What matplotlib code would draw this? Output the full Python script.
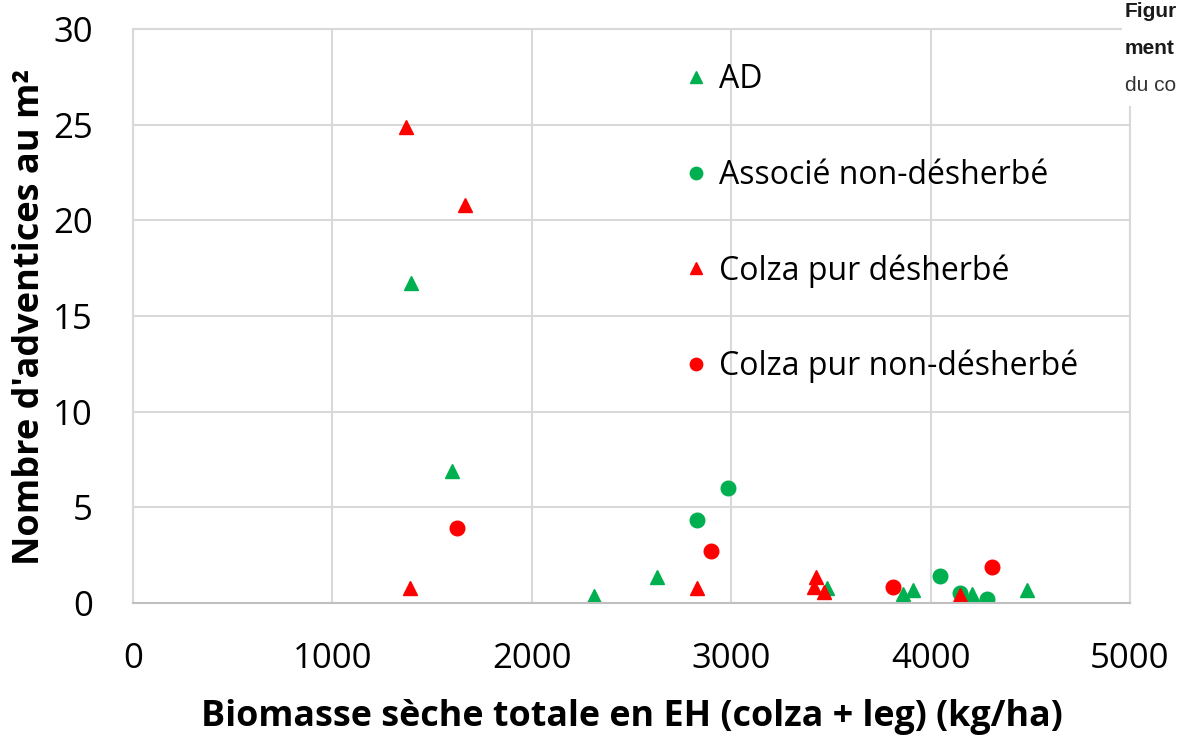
import matplotlib
matplotlib.use('Agg')
import matplotlib.pyplot as plt
from matplotlib.patches import Rectangle

plt.rcParams['font.family'] = ['Open Sans', 'DejaVu Sans']

# AD (green triangles)
ad_x = [1395, 1600, 2313, 2629, 3481, 3863, 3914, 4210, 4485]
ad_y = [16.7, 6.9, 0.37, 1.36, 0.8, 0.45, 0.68, 0.45, 0.68]
# Associé non-désherbé (green circles)
ass_x = [2830, 2986, 4049, 4145, 4285]
ass_y = [4.34, 6.0, 1.42, 0.52, 0.21]
# Colza pur désherbé (red triangles)
cd_x = [1370, 1666, 1390, 2830, 3427, 3417, 3467, 4145]
cd_y = [24.9, 20.8, 0.8, 0.8, 1.36, 0.85, 0.6, 0.4]
# Colza pur non-désherbé (red circles)
cnd_x = [1625, 2900, 3813, 4310]
cnd_y = [3.9, 2.7, 0.84, 1.88]

green = '#00B050'
red = '#FF0000'
W, H = 1178, 737

fig = plt.figure(figsize=(W/100, H/100), dpi=100)
ax = fig.add_axes([133/W, 1-603/H, (1130-133)/W, (603-29)/H])

ms = 10.5
ax.plot(ad_x, ad_y, '^', color=green, ms=ms, ls='none', label='AD')
ax.plot(ass_x, ass_y, 'o', color=green, ms=ms, ls='none', label='Associé non-désherbé')
ax.plot(cd_x, cd_y, '^', color=red, ms=ms, ls='none', label='Colza pur désherbé')
ax.plot(cnd_x, cnd_y, 'o', color=red, ms=ms, ls='none', label='Colza pur non-désherbé')

ax.set_xlim(0, 5000)
ax.set_ylim(0, 30)
ax.set_xticks(range(0, 5001, 1000))
ax.set_yticks(range(0, 31, 5))
ax.grid(True, color='#D9D9D9', lw=1.5)
ax.set_axisbelow(True)
for s in ['top', 'right', 'left']:
    ax.spines[s].set_color('#D9D9D9')
    ax.spines[s].set_linewidth(1.5)
ax.spines['bottom'].set_color('#BFBFBF')
ax.spines['bottom'].set_linewidth(1.5)
ax.tick_params(length=0, labelsize=25)
ax.tick_params(axis='x', pad=28)
ax.tick_params(axis='y', pad=29)

ax.set_xlabel('Biomasse sèche totale en EH (colza + leg) (kg/ha)', fontsize=25.8,
              fontweight='bold')
ax.xaxis.set_label_coords(0.5, -0.168)
ax.set_ylabel("Nombre d'adventices au m²", fontsize=26, fontweight='bold', va='center')
ax.yaxis.set_label_coords(-0.103, 0.498)

leg = ax.legend(loc='upper left', bbox_to_anchor=(0.52, 0.99), frameon=False,
                fontsize=23, labelspacing=1.95, handletextpad=0.2,
                markerscale=0.85, handlelength=1.0)

# cropped text of the surrounding document, top right
fig.add_artist(Rectangle((1122/W, 1-106/H), 56/W, 106/H, transform=fig.transFigure,
                         facecolor='white', edgecolor='none', zorder=5))
fig.text(1125/W, 1-17/H, 'Figur', fontsize=15, fontweight='bold', color='#1a1a1a',
         family=['Liberation Sans'], va='baseline', ha='left', zorder=6)
fig.text(1125/W, 1-54/H, 'ment', fontsize=15, fontweight='bold', color='#1a1a1a',
         family=['Liberation Sans'], va='baseline', ha='left', zorder=6)
fig.text(1125/W, 1-91/H, 'du co', fontsize=15, color='#333333',
         family=['Liberation Sans'], va='baseline', ha='left', zorder=6)

fig.savefig('out.png', dpi=100)
